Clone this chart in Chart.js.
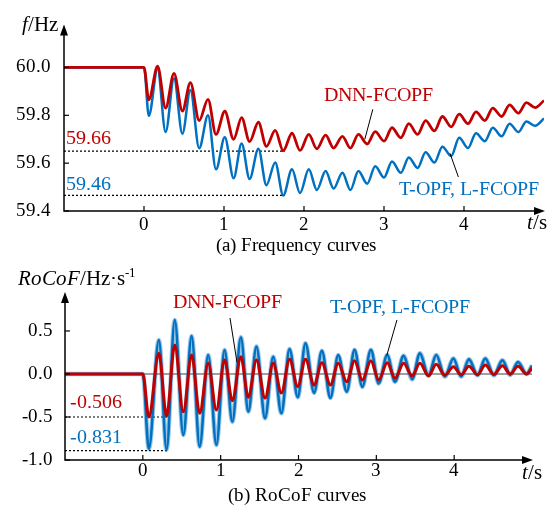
<!DOCTYPE html>
<html lang="en">
<head>
<meta charset="UTF-8" />
<title>Frequency and RoCoF curves</title>
<script src="https://cdn.jsdelivr.net/npm/chart.js"></script>
<style>
  @font-face { font-family: "FigSerif"; font-style: normal; src: local("Liberation Serif"), local("LiberationSerif"); }
  @font-face { font-family: "FigSerif"; font-style: italic; src: local("Liberation Serif Italic"), local("LiberationSerif-Italic"); }
  body { margin: 0; background: #fff; }
  #wrap { position: relative; width: 559px; height: 510px; }
  .box { position: absolute; left: 0; width: 559px; }
  .warm { position: absolute; left: -999px; top: 0; font-family: FigSerif, "Liberation Serif", serif; }
</style>
</head>
<body>
<div id="wrap">
  <div class="box" style="top:0;"><canvas id="freqChart" width="559" height="262"></canvas></div>
  <div class="box" style="top:262px;"><canvas id="rocofChart" width="559" height="248"></canvas></div>
</div>
<span class="warm">0.5</span><span class="warm" style="font-style:italic">t</span>
<script>
// ---- (a) frequency, peaks and troughs ----
const fTime = [-1, 0, 0.06, 0.17, 0.27, 0.375, 0.48, 0.58, 0.69, 0.80, 0.90, 1.01, 1.12, 1.22, 1.32, 1.43,
  1.53, 1.64, 1.74, 1.85, 1.95, 2.06, 2.16, 2.27, 2.37, 2.48, 2.58, 2.68, 2.79, 2.89, 3.00, 3.10, 3.21,
  3.31, 3.42, 3.52, 3.63, 3.73, 3.84, 3.94, 4.05, 4.15, 4.26, 4.36, 4.47, 4.57, 4.68, 4.78, 4.89, 5.0];
const fDnn = [60.0, 60.0, 59.865, 60.005, 59.83, 59.975, 59.818, 59.937, 59.778, 59.867, 59.72, 59.817, 59.70,
  59.79, 59.69, 59.771, 59.67, 59.737, 59.652, 59.725, 59.653, 59.72, 59.66, 59.717, 59.663, 59.712, 59.663,
  59.72, 59.68, 59.732, 59.692, 59.748, 59.706, 59.765, 59.72, 59.778, 59.735, 59.795, 59.752, 59.805, 59.765,
  59.814, 59.778, 59.83, 59.795, 59.844, 59.809, 59.853, 59.832, 59.862];
const fTopf = [60.0, 60.0, 59.798, 59.995, 59.73, 59.954, 59.723, 59.906, 59.662, 59.80, 59.574, 59.708, 59.537,
  59.682, 59.534, 59.66, 59.508, 59.603, 59.465, 59.574, 59.475, 59.574, 59.488, 59.567, 59.494, 59.56, 59.488,
  59.567, 59.514, 59.587, 59.54, 59.607, 59.56, 59.624, 59.58, 59.646, 59.603, 59.669, 59.63, 59.706, 59.663,
  59.725, 59.692, 59.748, 59.712, 59.765, 59.73, 59.774, 59.756, 59.787];
const fTicks = [59.4, 59.6, 59.8, 60.0];
const fMinLevels = [59.65, 59.465];
const fMinLabels = ['59.66', '59.46'];

// ---- (b) RoCoF ----
const rTime = [-1, 0, 0.077, 0.206, 0.305, 0.41, 0.52, 0.627, 0.73, 0.84, 0.945, 1.05, 1.15, 1.26, 1.355, 1.46,
  1.57, 1.675, 1.78, 1.885, 1.99, 2.09, 2.20, 2.30, 2.41, 2.51, 2.62, 2.72, 2.82, 2.93, 3.03, 3.14, 3.24,
  3.35, 3.46, 3.56, 3.67, 3.77, 3.88, 3.99, 4.09, 4.19, 4.30, 4.40, 4.51, 4.62, 4.72, 4.82, 4.93, 5.0];
const rDnn = [0, 0, -0.50, 0.24, -0.49, 0.337, -0.44, 0.22, -0.457, 0.124, -0.42, 0.163, -0.31, 0.20, -0.27,
  0.163, -0.28, 0.124, -0.22, 0.17, -0.147, 0.17, -0.128, 0.13, -0.128, 0.124, -0.09, 0.155, -0.07, 0.155,
  -0.07, 0.13, -0.05, 0.124, -0.023, 0.124, -0.02, 0.112, -0.015, 0.085, -0.01, 0.09, -0.01, 0.105, -0.005,
  0.095, 0.0, 0.09, 0.0, 0.066];
const rTopf = [0, 0, -0.87, 0.395, -0.88, 0.628, -0.71, 0.44, -0.845, 0.22, -0.826, 0.279, -0.555, 0.427, -0.438,
  0.318, -0.515, 0.2, -0.457, 0.29, -0.27, 0.357, -0.22, 0.27, -0.28, 0.22, -0.205, 0.28, -0.15, 0.28,
  -0.11, 0.22, -0.09, 0.21, -0.06, 0.24, -0.02, 0.22, -0.03, 0.18, -0.03, 0.17, -0.015, 0.18, -0.015,
  0.16, -0.01, 0.14, 0.0, 0.1];
const rTicks = [-1.0, -0.5, 0.0, 0.5];
const rMinLevels = [-0.5, -0.89];
const rMinLabels = ['-0.506', '-0.831'];

const tTicks = [0, 1, 2, 3, 4];

const FONT = 'FigSerif, "Liberation Serif", "Times New Roman", serif';
const RED = '#C00000', BLUE = '#0070C0';

const pts = (xs, ys) => xs.map((x, i) => ({ x: x, y: ys[i] }));

function line(data, color, width, dash) {
  return {
    data: data, borderColor: color, borderWidth: width, borderDash: dash || [],
    pointRadius: 0, fill: false, cubicInterpolationMode: 'monotone'
  };
}

function fontOf(p) {
  return (p.italic ? 'italic ' : '') + (p.size || 21) + 'px ' + FONT;
}

// draws a run of text pieces (italic / superscript) one after another
function rich(ctx, parts, x, y, align, color) {
  ctx.fillStyle = color || '#000';
  ctx.textAlign = 'left';
  ctx.textBaseline = 'alphabetic';
  let w = 0;
  parts.forEach(p => { ctx.font = fontOf(p); w += ctx.measureText(p.t).width; });
  let cx = align === 'right' ? x - w : align === 'center' ? x - w / 2 : x;
  parts.forEach(p => {
    ctx.font = fontOf(p);
    ctx.fillText(p.t, cx, y - (p.sup ? 8 : 0));
    cx += ctx.measureText(p.t).width;
  });
}

function seg(ctx, x1, y1, x2, y2) {
  ctx.beginPath(); ctx.moveTo(x1, y1); ctx.lineTo(x2, y2); ctx.stroke();
}

// axes with arrow heads, inward ticks, then the chart's own notes
function makeDeco(notes) {
  return {
    id: 'deco',
    afterDraw(chart) {
      const { ctx, chartArea: a, scales: { x, y } } = chart;
      ctx.save();
      ctx.strokeStyle = '#000';
      ctx.fillStyle = '#000';
      ctx.lineWidth = 1.5;
      ctx.beginPath();
      ctx.moveTo(a.left, a.top + 6);
      ctx.lineTo(a.left, a.bottom);
      ctx.lineTo(a.right - 6, a.bottom);
      ctx.stroke();
      ctx.beginPath();
      ctx.moveTo(a.left, a.top); ctx.lineTo(a.left - 4, a.top + 11); ctx.lineTo(a.left + 4, a.top + 11);
      ctx.closePath(); ctx.fill();
      ctx.beginPath();
      ctx.moveTo(a.right + 1, a.bottom); ctx.lineTo(a.right - 10, a.bottom - 4); ctx.lineTo(a.right - 10, a.bottom + 4);
      ctx.closePath(); ctx.fill();
      ctx.lineWidth = 1.2;
      x.ticks.forEach(t => { const px = x.getPixelForValue(t.value); seg(ctx, px, a.bottom, px, a.bottom - 5); });
      y.ticks.forEach(t => { const py = y.getPixelForValue(t.value); seg(ctx, a.left, py, a.left + 5, py); });
      notes(ctx, a, x, y);
      ctx.restore();
    }
  };
}

function makeChart(id, datasets, yMin, yMax, yTicks, yPad, yWidth, xPad, xHeight, padding, notes) {
  return new Chart(document.getElementById(id), {
    type: 'line',
    data: { datasets: datasets },
    options: {
      responsive: false,
      animation: false,
      layout: { padding: padding },
      plugins: { legend: { display: false }, tooltip: { enabled: false } },
      scales: {
        x: {
          type: 'linear', min: -1, max: 5,
          afterBuildTicks: s => { s.ticks = tTicks.map(v => ({ value: v })); },
          afterFit: s => { s.height = xHeight; },
          grid: { display: false, drawTicks: false },
          border: { display: false },
          ticks: { color: '#000', padding: xPad, maxRotation: 0, autoSkip: false,
                   font: { family: FONT, size: 19 }, callback: v => String(v) }
        },
        y: {
          type: 'linear', min: yMin, max: yMax,
          afterBuildTicks: s => { s.ticks = yTicks.map(v => ({ value: v })); },
          afterFit: s => { s.width = yWidth; },
          grid: { display: false, drawTicks: false },
          border: { display: false },
          ticks: { color: '#000', padding: yPad, autoSkip: false,
                   font: { family: FONT, size: 19 }, callback: v => v.toFixed(1) }
        }
      }
    },
    plugins: [makeDeco(notes)]
  });
}

function drawAll() {
  // (a) frequency curves
  makeChart('freqChart', [
    line(pts(fTime, fDnn), RED, 2.8),
    line(pts(fTime, fTopf), BLUE, 2.5),
    line(pts([-1, 1.76], [fMinLevels[0], fMinLevels[0]]), '#000', 1.2, [2, 2]),
    line(pts([-1, 1.76], [fMinLevels[1], fMinLevels[1]]), '#000', 1.2, [2, 2])
  ], 59.4, 60.18, fTicks, 13, 64, 3, 51, { left: 0, top: 13, right: 15, bottom: 0 },
  (ctx, a, x, y) => {
    rich(ctx, [{ t: fMinLabels[0], size: 20 }], x.getPixelForValue(-0.97), y.getPixelForValue(59.68), 'left', RED);
    rich(ctx, [{ t: fMinLabels[1], size: 20 }], x.getPixelForValue(-0.97), y.getPixelForValue(59.487), 'left', BLUE);
    rich(ctx, [{ t: 'DNN-FCOPF', size: 20 }], x.getPixelForValue(2.93), y.getPixelForValue(59.858), 'center', RED);
    rich(ctx, [{ t: 'T-OPF, L-FCOPF', size: 20 }], x.getPixelForValue(4.06), y.getPixelForValue(59.467), 'center', BLUE);
    ctx.strokeStyle = '#000'; ctx.lineWidth = 1;
    seg(ctx, x.getPixelForValue(2.86), y.getPixelForValue(59.825), x.getPixelForValue(2.76), y.getPixelForValue(59.70));
    seg(ctx, x.getPixelForValue(3.825), y.getPixelForValue(59.641), x.getPixelForValue(3.93), y.getPixelForValue(59.542));
    rich(ctx, [{ t: 'f', italic: true }, { t: '/Hz' }], a.left - 6, a.top + 7, 'right');
    rich(ctx, [{ t: 't', italic: true }, { t: '/s' }], a.right - 17, a.bottom + 18, 'left');
    rich(ctx, [{ t: '(a) Frequency curves', size: 19 }], 296, 251, 'center');
  });

  // (b) RoCoF curves
  makeChart('rocofChart', [
    line(pts(rTime, rDnn), RED, 3),
    line(pts(rTime, rTopf), BLUE, 2.6),
    line(pts(rTime, rTopf), 'rgba(0,112,192,0.4)', 4.6),
    line(pts([-1, 0.31], [rMinLevels[0], rMinLevels[0]]), '#000', 1.2, [2, 2]),
    line(pts([-1, 0.31], [rMinLevels[1], rMinLevels[1]]), '#000', 1.2, [2, 2]),
    line(pts([-1, 5], [0, 0]), '#808080', 1.5)
  ], -1.0, 0.953, rTicks, 12, 65, 0, 50, { left: 0, top: 30, right: 27, bottom: 0 },
  (ctx, a, x, y) => {
    rich(ctx, [{ t: rMinLabels[0], size: 20 }], x.getPixelForValue(-0.94), y.getPixelForValue(-0.395), 'left', RED);
    rich(ctx, [{ t: rMinLabels[1], size: 20 }], x.getPixelForValue(-0.94), y.getPixelForValue(-0.80), 'left', BLUE);
    rich(ctx, [{ t: 'DNN-FCOPF', size: 20 }], x.getPixelForValue(1.094), y.getPixelForValue(0.767), 'center', RED);
    rich(ctx, [{ t: 'T-OPF, L-FCOPF', size: 20 }], x.getPixelForValue(3.31), y.getPixelForValue(0.709), 'center', BLUE);
    ctx.strokeStyle = '#000'; ctx.lineWidth = 1;
    seg(ctx, x.getPixelForValue(1.12), y.getPixelForValue(0.651), x.getPixelForValue(1.21), y.getPixelForValue(0.134));
    seg(ctx, x.getPixelForValue(3.265), y.getPixelForValue(0.628), x.getPixelForValue(3.136), y.getPixelForValue(0.221));
    rich(ctx, [{ t: 'RoCoF', italic: true }, { t: '/Hz·s' }, { t: '-1', size: 13, sup: true }], 18, a.top - 7, 'left');
    rich(ctx, [{ t: 't', italic: true }, { t: '/s' }], a.right - 10, a.bottom + 19, 'left');
    rich(ctx, [{ t: '(b) RoCoF curves', size: 19 }], 297, 239, 'center');
  });
}

// make sure the serif faces are ready before the canvases are painted
Promise.all([
  document.fonts.load('19px FigSerif'),
  document.fonts.load('italic 19px FigSerif')
]).catch(() => {}).then(drawAll);
</script>
</body>
</html>
